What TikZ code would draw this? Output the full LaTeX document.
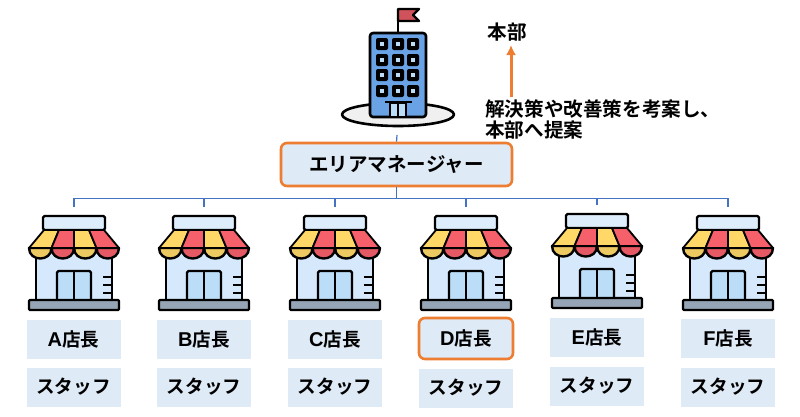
\documentclass[tikz,border=0pt]{standalone}
\usepackage{fontspec}
\usetikzlibrary{arrows.meta}
\setmainfont{Noto Sans CJK JP}[BoldFont={* Bold}]
\newfontfamily\initial{Liberation Sans}[BoldFont={* Bold}]
\newcommand{\chief}[1]{{\initial\fontsize{20}{20}\selectfont\bfseries #1}店長}
\definecolor{panel}{HTML}{DEEAF6}
\definecolor{accent}{HTML}{ED7D31}
\definecolor{wire}{HTML}{4472C4}
\definecolor{wall}{HTML}{D6E8FB}
\definecolor{glass}{HTML}{BBDDF7}
\definecolor{tower}{HTML}{6AA2E6}
\definecolor{stripeY}{HTML}{FFD868}
\definecolor{stripeR}{HTML}{F5606A}
\definecolor{plinth}{HTML}{95A5B5}
\tikzset{
  x=1pt,y=-1pt,
  link/.style={draw=wire,line width=1.2pt},
  label/.style={fill=panel,minimum width=94pt,minimum height=39pt,inner sep=0pt,font=\fontsize{18.6}{20}\selectfont\bfseries,text=black},
  hilite/.style={label,draw=accent,line width=2.6pt,rounded corners=6pt,minimum width=94pt,minimum height=41pt},
  ink/.style={draw=black,line width=2.4pt,line join=round},
  note/.style={font=\fontsize{19.6}{23}\selectfont\bfseries,text=black,align=left,inner sep=0pt},
  shop/.pic={
    % sign board
    \draw[ink,fill=wall!80!white,rounded corners=1.5pt] (-31,26) rectangle (31,40);
    % walls, door and side ticks
    \draw[ink,fill=wall] (-38,60) -- (-38,110) -- (38,110) -- (38,60);
    \draw[ink,fill=glass,rounded corners=1.5pt] (-17,110) -- (-17,81) -- (17,81) -- (17,110);
    \draw[ink,line width=1.6pt] (0,81) -- (0,110);
    \draw[ink,line width=1.8pt] (29,87) -- (37,87) (29,95) -- (37,95) (29,103) -- (37,103);
    % awning: scallops first, then the slanted stripes
    \foreach \xa/\xb/\xc/\xd/\col in {-45/-22.5/-30/-15/stripeY,-22.5/0/-15/0/stripeR,0/22.5/0/15/stripeY,22.5/45/15/30/stripeR}{
      \draw[ink,fill=\col!93!black] (\xa,58) .. controls (\xa,72) and (\xb,72) .. (\xb,58) -- cycle;
      \draw[ink,line width=1.8pt,fill=\col] (\xc,40) -- (\xd,40) -- (\xb,58) -- (\xa,58) -- cycle;
    }
    % plinth
    \draw[ink,fill=plinth,rounded corners=1pt] (-45,110) rectangle (45,120);
  }
}
\begin{document}
\begin{tikzpicture}
\useasboundingbox (0,0) rectangle (800,416);

% headquarters tower on its round plaza
\draw[ink,line width=2.6pt,fill=black!6] (398,114.5) ellipse [x radius=56,y radius=11.5];
\draw[ink,line width=2.6pt] (398,32) -- (398,9);
\draw[ink,fill=stripeR!85!black] (398,9) -- (419,9) -- (413,15) -- (419,21) -- (398,21) -- cycle;
\draw[ink,line width=2.6pt,fill=tower,rounded corners=3pt] (370,33) rectangle (426,117);
\foreach \wx in {382,398,413}
  \foreach \wy in {44,60,75,91}{
    \fill[black,rounded corners=2pt] (\wx-6,\wy-6) rectangle (\wx+6,\wy+6);
    \fill[glass] (\wx-2,\wy-2) rectangle (\wx+2,\wy+2);
  }
\draw[ink,fill=glass] (390,103) rectangle (406,117);
\draw[ink,line width=1.2pt] (398,103) -- (398,117);
\draw[ink] (385,102) -- (412,102);

\coordinate (hq) at (397,135);

% area manager
\node[hilite,minimum width=231pt,minimum height=43pt,font=\fontsize{19.5}{22}\selectfont\bfseries] (am) at (396.5,164.5) {エリアマネージャー};

% shops, one column per manager
\foreach \id/\cx/\ty/\dy in {A/74/190/0,B/204/190/0,C/335/190/0,D/466/190/0,E/597/188/-2,F/728/190/0}{
  \pic at (\cx,\ty) {shop};
  \coordinate (shop\id) at (\cx,207+\dy);
}

% manager and staff labels
\node[label] (mgrA) at (73.5,339) {\chief{A}};
\node[label] (mgrB) at (204,339) {\chief{B}};
\node[label] (mgrC) at (335,339) {\chief{C}};
\node[hilite] (mgrD) at (466,338.5) {\chief{D}};
\node[label] (mgrE) at (597,337) {\chief{E}};
\node[label] (mgrF) at (728,338) {\chief{F}};
\node[label] (stfA) at (73.5,387) {スタッフ};
\node[label] (stfB) at (204,387) {スタッフ};
\node[label] (stfC) at (335,387) {スタッフ};
\node[label] (stfD) at (466,388) {スタッフ};
\node[label] (stfE) at (597,386) {スタッフ};
\node[label] (stfF) at (728,387) {スタッフ};

% reporting lines
\draw[link] (hq) -- (am.north);
\foreach \id in {A,B,C,D,E,F}
  \draw[link] (am.south) -- ++(0,11) -| (shop\id);

% proposal to head office
\node[note] (head) at (507,32) {本部};
\node[note,anchor=north west,text width=240pt] (plan) at (485,99) {解決策や改善策を考案し、\\[-1.5pt]本部へ提案};
\coordinate (planTop) at (511,97);
\draw[accent,line width=3pt,-{Latex[length=10pt,width=10pt]}] (planTop) -- (511,45);
\end{tikzpicture}
\end{document}
